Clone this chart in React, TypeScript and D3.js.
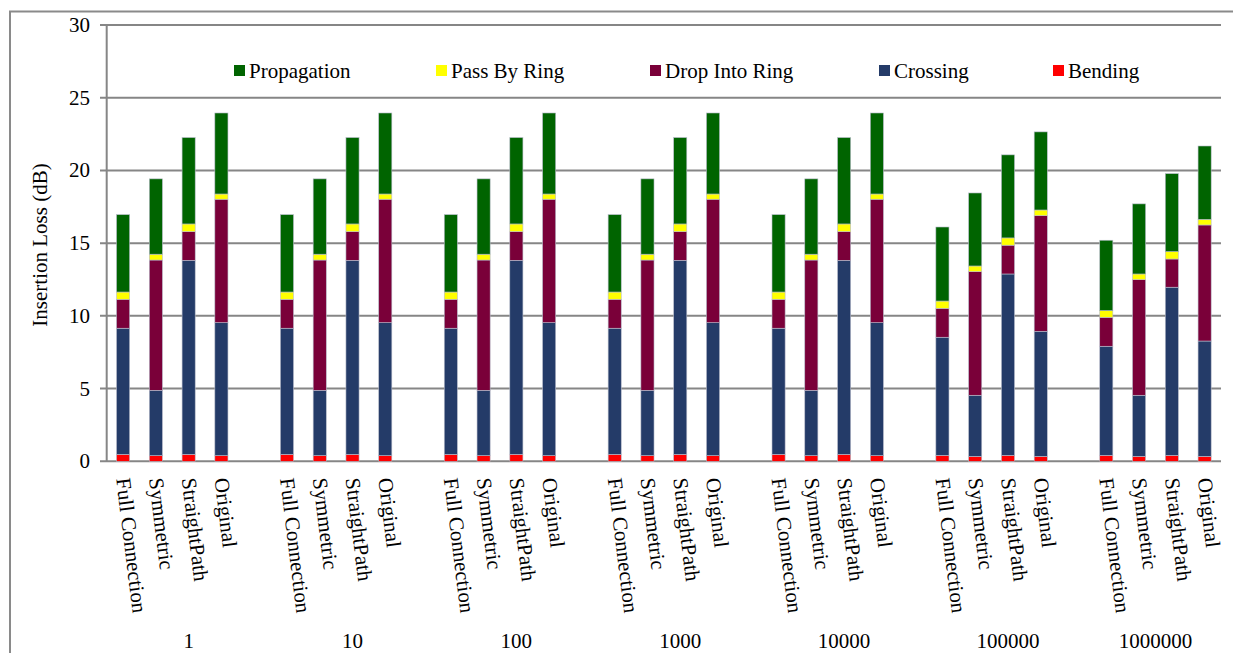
import React from "react";
import * as d3 from "d3";

const groups = ["1", "10", "100", "1000", "10000", "100000", "1000000"];
const variants = ["Full Connection", "Symmetric", "StraightPath", "Original"];
const seriesNames = ["Bending", "Crossing", "Drop Into Ring", "Pass By Ring", "Propagation"];
const seriesColors = ["#ff0000", "#243b68", "#7a0039", "#ffff00", "#006400"];
const yTicks = [0, 5, 10, 15, 20, 25, 30];

// values per group, per variant: [Full Connection, Symmetric, StraightPath, Original]
const bending = [
  [0.48, 0.39, 0.48, 0.39],
  [0.48, 0.39, 0.48, 0.39],
  [0.48, 0.39, 0.48, 0.39],
  [0.48, 0.39, 0.48, 0.39],
  [0.48, 0.39, 0.48, 0.39],
  [0.41, 0.34, 0.41, 0.34],
  [0.41, 0.34, 0.41, 0.34],
];
const crossing = [
  [8.67, 4.49, 13.34, 9.14],
  [8.67, 4.49, 13.34, 9.14],
  [8.67, 4.49, 13.34, 9.14],
  [8.67, 4.49, 13.34, 9.14],
  [8.67, 4.49, 13.34, 9.14],
  [8.12, 4.2, 12.47, 8.6],
  [7.5, 4.2, 11.56, 7.93],
];
const dropIntoRing = [
  [1.99, 8.96, 1.97, 8.49],
  [1.99, 8.96, 1.97, 8.49],
  [1.99, 8.96, 1.97, 8.49],
  [1.99, 8.96, 1.97, 8.49],
  [1.99, 8.96, 1.97, 8.49],
  [1.99, 8.5, 1.98, 7.95],
  [1.99, 7.95, 1.94, 7.98],
];
const passByRing = [
  [0.5, 0.4, 0.53, 0.36],
  [0.5, 0.4, 0.53, 0.36],
  [0.5, 0.4, 0.53, 0.36],
  [0.5, 0.4, 0.53, 0.36],
  [0.5, 0.4, 0.53, 0.36],
  [0.5, 0.39, 0.5, 0.39],
  [0.46, 0.39, 0.51, 0.39],
];
const propagation = [
  [5.32, 5.18, 5.94, 5.57],
  [5.32, 5.18, 5.94, 5.57],
  [5.32, 5.18, 5.94, 5.57],
  [5.32, 5.18, 5.94, 5.57],
  [5.32, 5.18, 5.94, 5.57],
  [5.09, 5.02, 5.71, 5.37],
  [4.84, 4.82, 5.36, 5.04],
];

const legendOrder = ["Propagation", "Pass By Ring", "Drop Into Ring", "Crossing", "Bending"];
const legendX = [234, 436, 650, 879, 1053];

export default function App() {
  const W = 1233, H = 653;
  const left = 106.7, right = 1221, top = 25, bottom = 461.3;
  const ts: React.CSSProperties = { fontFamily: '"Liberation Serif", "DejaVu Serif", serif', fontSize: 21 };
  const nSlots = groups.length * 5 - 1;
  const x = d3.scaleBand<number>().domain(d3.range(nSlots)).range([left, right]).paddingInner(0.6).paddingOuter(0.3);
  const y = d3.scaleLinear().domain([0, 30]).range([bottom, top]);

  const rows: any[] = [];
  groups.forEach((g, gi) => {
    variants.forEach((v, vi) => {
      const row: any = { slot: gi * 5 + vi, variant: v };
      row["Bending"] = bending[gi][vi];
      row["Crossing"] = crossing[gi][vi];
      row["Drop Into Ring"] = dropIntoRing[gi][vi];
      row["Pass By Ring"] = passByRing[gi][vi];
      row["Propagation"] = propagation[gi][vi];
      rows.push(row);
    });
  });
  const stack = d3.stack<any>().keys(seriesNames);
  const layers = stack(rows);
  const bw = x.bandwidth();

  return (
    <svg width={W} height={H} style={{ position: "absolute", left: 0, top: 0, background: "#fff" }}>
      <rect x={10} y={11.5} width={W + 20} height={H + 20} fill="#fff" stroke="#8a8a8a" strokeWidth={2} />
      {yTicks.map((t) => (
        <g key={t}>
          <line x1={100} x2={right} y1={y(t)} y2={y(t)} stroke="#868686" strokeWidth={2} />
          <text x={90} y={y(t)} textAnchor="end" dominantBaseline="central" style={ts} fill="#000">{t}</text>
        </g>
      ))}
      <line x1={left} x2={left} y1={top} y2={bottom} stroke="#868686" strokeWidth={2} />
      {layers.map((layer, li) => (
        <g key={layer.key} fill={seriesColors[li]}>
          {layer.map((d: any, i: number) => (
            <rect key={i} x={x(d.data.slot)} width={bw} y={y(d[1])} height={y(d[0]) - y(d[1])} stroke="#b8bccb" strokeWidth={0.6} />
          ))}
        </g>
      ))}
      {rows.map((r, i) => (
        <text key={i} transform={`translate(${(x(r.slot) as number) + bw / 2},${478}) rotate(83)`} textAnchor="start" dominantBaseline="central" style={ts} fill="#000">{r.variant}</text>
      ))}
      {groups.map((g, gi) => {
        const first = gi * 5;
        const last = Math.min(gi * 5 + 4, nSlots - 1);
        const cx = ((x(first) as number) + (x(last) as number) + bw) / 2;
        return <text key={g} x={cx} y={648} textAnchor="middle" style={ts} fill="#000">{g}</text>;
      })}
      <text transform={`translate(40,${245}) rotate(-90)`} textAnchor="middle" dominantBaseline="central" style={ts} fill="#000">Insertion Loss (dB)</text>
      {legendOrder.map((name, i) => (
        <g key={name}>
          <rect x={legendX[i]} y={65} width={11} height={11} fill={seriesColors[seriesNames.indexOf(name)]} />
          <text x={legendX[i] + 15} y={77.5} style={ts} fill="#000">{name}</text>
        </g>
      ))}
    </svg>
  );
}
